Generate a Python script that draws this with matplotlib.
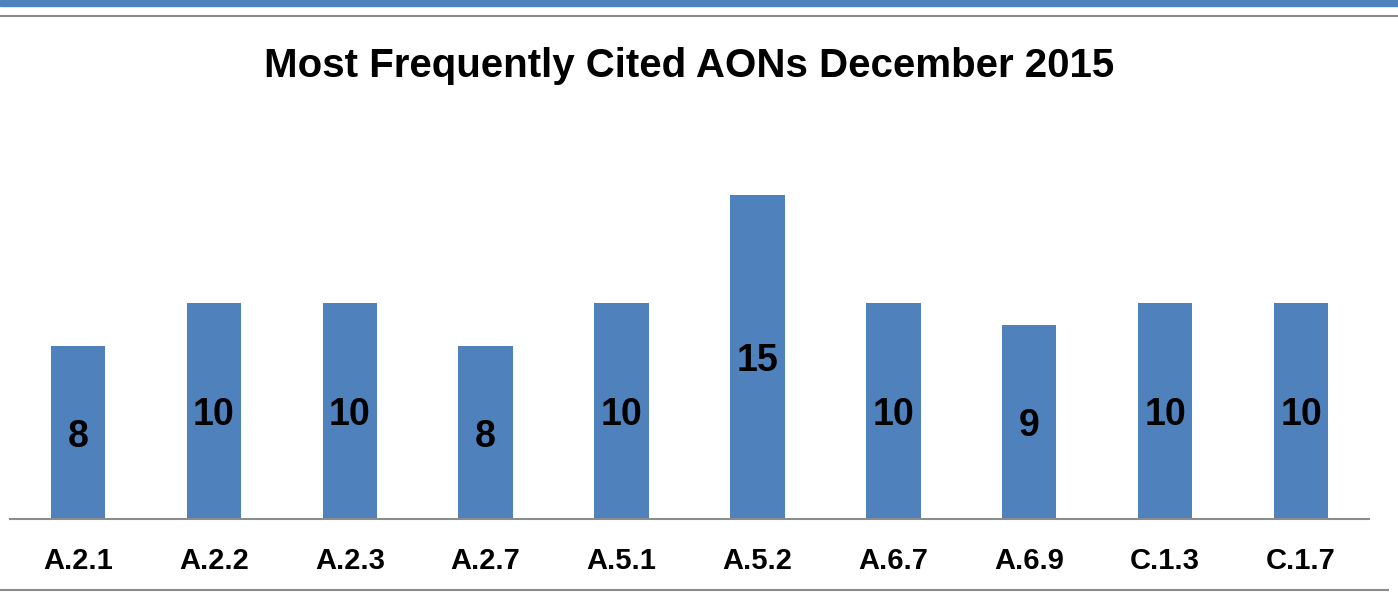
import matplotlib
matplotlib.use("Agg")
import matplotlib.pyplot as plt
from matplotlib.lines import Line2D
from matplotlib.patches import Rectangle

categories = ["A.2.1", "A.2.2", "A.2.3", "A.2.7", "A.5.1",
              "A.5.2", "A.6.7", "A.6.9", "C.1.3", "C.1.7"]
counts = [8, 10, 10, 8, 10, 15, 10, 9, 10, 10]
title = "Most Frequently Cited AONs December 2015"

bar_color = "#4f81bd"
plt.rcParams["font.family"] = ["Liberation Sans", "DejaVu Sans"]

fig = plt.figure(figsize=(13.98, 5.92), dpi=100)
W, H = 1398, 592

# decorative frame: blue band on top, grey rules
fig.patches.append(Rectangle((0, 1 - 6 / H), 1, 6 / H, transform=fig.transFigure,
                             color=bar_color, zorder=0))
fig.lines.append(Line2D([0, 1], [1 - 16 / H] * 2, transform=fig.transFigure,
                        color="#8c8c8c", lw=1.5))
fig.lines.append(Line2D([0, 1388 / W], [1 - 590 / H] * 2, transform=fig.transFigure,
                        color="#8c8c8c", lw=1.5))

ax_left, ax_right = 10 / W, 1369 / W
ax_bottom, ax_top = 1 - 519 / H, 1 - 87 / H
ax = fig.add_axes([ax_left, ax_bottom, ax_right - ax_left, ax_top - ax_bottom])

x = range(len(categories))
bars = ax.bar(x, counts, width=0.4, color=bar_color)
ax.set_xlim(-0.5, len(categories) - 0.5)
ax.set_ylim(0, 20)

for xi, v in zip(x, counts):
    ax.text(xi, v / 2, str(v), ha="center", va="center_baseline",
            fontsize=27, fontweight="bold", color="black")

ax.set_xticks(list(x))
ax.set_xticklabels(categories, fontsize=21, fontweight="bold")
ax.tick_params(axis="x", length=0, pad=20)
ax.set_yticks([])
for s in ["top", "right", "left"]:
    ax.spines[s].set_visible(False)
ax.spines["bottom"].set_color("#8c8c8c")
ax.spines["bottom"].set_linewidth(1.5)

fig.text(689 / W, 1 - 62 / H, title, ha="center", va="center_baseline",
         fontsize=29, fontweight="bold")

fig.savefig("out.png", dpi=100)
